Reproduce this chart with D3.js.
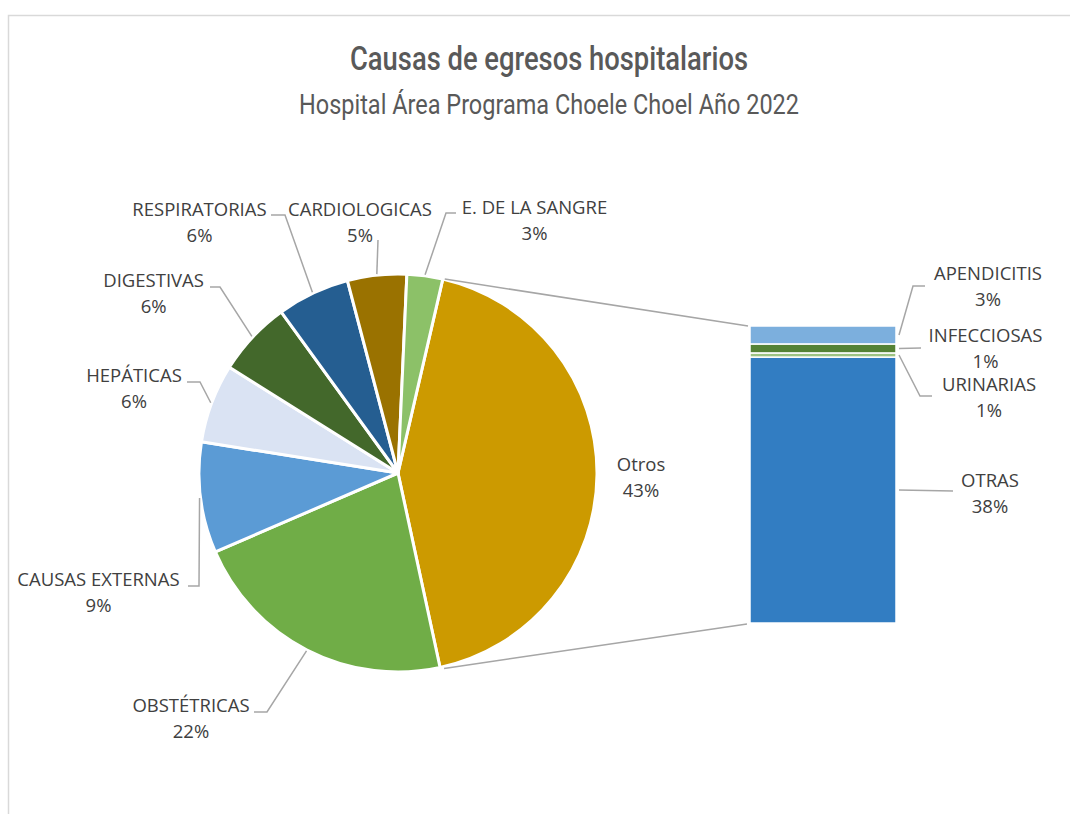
<!DOCTYPE html>
<html><head><meta charset="utf-8">
<script src="https://cdn.jsdelivr.net/npm/d3@7"></script>
<style>body{margin:0;background:#fff} svg{display:block}</style></head>
<body>
<svg id="c" width="1070" height="814"></svg>
<script>
// ---------- data ----------
const pieCategories = ["Otros","OBSTÉTRICAS","CAUSAS EXTERNAS","HEPÁTICAS","DIGESTIVAS","RESPIRATORIAS","CARDIOLOGICAS","E. DE LA SANGRE"];
const pieOtherValues = [21.9, 9.0, 6.4, 6.1, 5.9, 4.8, 2.9];
const barCategories = ["OTRAS","URINARIAS","INFECCIOSAS","APENDICITIS"];
const barValues = [38.5, 0.6, 1.3, 2.6];
const pieValues = [d3.sum(barValues), ...pieOtherValues];
const titleText = "Causas de egresos hospitalarios";
const subtitleText = "Hospital Área Programa Choele Choel Año 2022";

// ---------- styles / layout ----------
const pieColors = ["#cc9a00","#70ad47","#5b9bd5","#dae3f3","#43682b","#255e91","#9a7200","#8cc168"];
const barColors = ["#327dc2","#9dc383","#548235","#7cafdd"];
const labelColor = "#404040", leaderColor = "#a6a6a6";
const cx = 398, cy = 473, R = 199;
const barX0 = 750, barX1 = 896, barTop = 326, barBottom = 623;
const pieLabelLayout = {
  "Otros":           {x:641,   y:471, lead:null},
  "OBSTÉTRICAS":     {x:191,   y:712, lead:[[254,712],[267,712]]},
  "CAUSAS EXTERNAS": {x:98.5,  y:586, lead:[[188,586],[199,586]]},
  "HEPÁTICAS":       {x:134,   y:382, lead:[[187,382],[200,382]]},
  "DIGESTIVAS":      {x:153.6, y:287, lead:[[210,287],[220,287]]},
  "RESPIRATORIAS":   {x:199.5, y:216, lead:[[271,215],[285,215]]},
  "CARDIOLOGICAS":   {x:360,   y:216, lead:[[378,240]]},
  "E. DE LA SANGRE": {x:534.5, y:214, lead:[[456,213],[446,213]]}
};
const barLabelLayout = {
  "APENDICITIS": {x:988,   y:280, lead:[[925,286],[913,286]]},
  "INFECCIOSAS": {x:985.5, y:342, lead:[[921,348]]},
  "URINARIAS":   {x:989,   y:391, lead:[[932,396],[920,396]]},
  "OTRAS":       {x:990,   y:487, lead:[[953,491]]}
};

const svg = d3.select("#c");
const total = d3.sum(pieValues);
const pct = v => Math.round(v / total * 100) + "%";
const font = "'Open Sans', sans-serif";

// frame
svg.append("rect").attr("x",8.5).attr("y",15.5).attr("width",1200).attr("height",900)
  .attr("fill","#fff").attr("stroke","#d9d9d9").attr("stroke-width",1.5);

// titles
svg.append("text").attr("x",549).attr("y",70).attr("text-anchor","middle")
  .attr("font-family","Roboto, sans-serif").attr("font-size",33).attr("font-weight",500)
  .attr("fill","#595959").attr("textLength",398).attr("lengthAdjust","spacingAndGlyphs").text(titleText);
svg.append("text").attr("x",549).attr("y",114).attr("text-anchor","middle")
  .attr("font-family","Roboto, sans-serif").attr("font-size",28).attr("font-weight",400)
  .attr("fill","#595959").attr("textLength",500).attr("lengthAdjust","spacingAndGlyphs").text(subtitleText);

// pie
const start = 13 * Math.PI / 180;
const pie = d3.pie().sort(null).value(d => d).startAngle(start).endAngle(start + 2*Math.PI);
const arcs = pie(pieValues);
const arc = d3.arc().innerRadius(0).outerRadius(R);
const g = svg.append("g").attr("transform",`translate(${cx},${cy})`);
g.selectAll("path").data(arcs).join("path")
  .attr("d",arc).attr("fill",(d,i)=>pieColors[i])
  .attr("stroke","#fff").attr("stroke-width",3).attr("stroke-linejoin","round");

// bar (stacked)
const yBar = d3.scaleLinear().domain([0, d3.sum(barValues)]).range([barBottom, barTop]);
const stackCum = d3.cumsum(barValues);
const segs = barValues.map((v,i)=>({cat:barCategories[i], v, y0: stackCum[i]-v, y1: stackCum[i], i}));
svg.selectAll("rect.seg").data(segs).join("rect").attr("class","seg")
  .attr("x",barX0).attr("width",barX1-barX0)
  .attr("y",d=>yBar(d.y1)).attr("height",d=>yBar(d.y0)-yBar(d.y1))
  .attr("fill",d=>barColors[d.i]).attr("stroke","#fff").attr("stroke-width",1.5);

// connector lines
const otros = arcs[0];
const pt = (a, r) => [cx + r*Math.sin(a), cy - r*Math.cos(a)];
const pA = pt(otros.startAngle, R), pB = pt(otros.endAngle, R);
svg.append("line").attr("x1",pA[0]+2).attr("y1",pA[1]).attr("x2",barX0-2).attr("y2",yBar(d3.sum(barValues)))
  .attr("stroke",leaderColor).attr("stroke-width",1.5);
svg.append("line").attr("x1",pB[0]+4).attr("y1",pB[1]+1).attr("x2",barX0-3).attr("y2",yBar(0)+1)
  .attr("stroke",leaderColor).attr("stroke-width",1.5);

// labels
const line = d3.line();
function drawLabel(name, value, L, anchorPt){
  if (L.lead && anchorPt) {
    svg.append("path").attr("d", line([...L.lead, anchorPt]))
      .attr("fill","none").attr("stroke",leaderColor).attr("stroke-width",1.5);
  }
  const t = svg.append("text").attr("font-family",font).attr("font-size",18.5)
    .attr("fill",labelColor).attr("text-anchor","middle");
  t.append("tspan").attr("x",L.x).attr("y",L.y).text(name);
  t.append("tspan").attr("x",L.x).attr("y",L.y+26).text(pct(value));
}
arcs.forEach((a,i)=>{
  const name = pieCategories[i];
  const mid = (a.startAngle + a.endAngle)/2;
  drawLabel(name, a.value, pieLabelLayout[name], pt(mid, R+1));
});
segs.forEach(s=>{
  drawLabel(s.cat, s.v, barLabelLayout[s.cat], [barX1+3, yBar((s.y0+s.y1)/2)]);
});
</script>
</body></html>
